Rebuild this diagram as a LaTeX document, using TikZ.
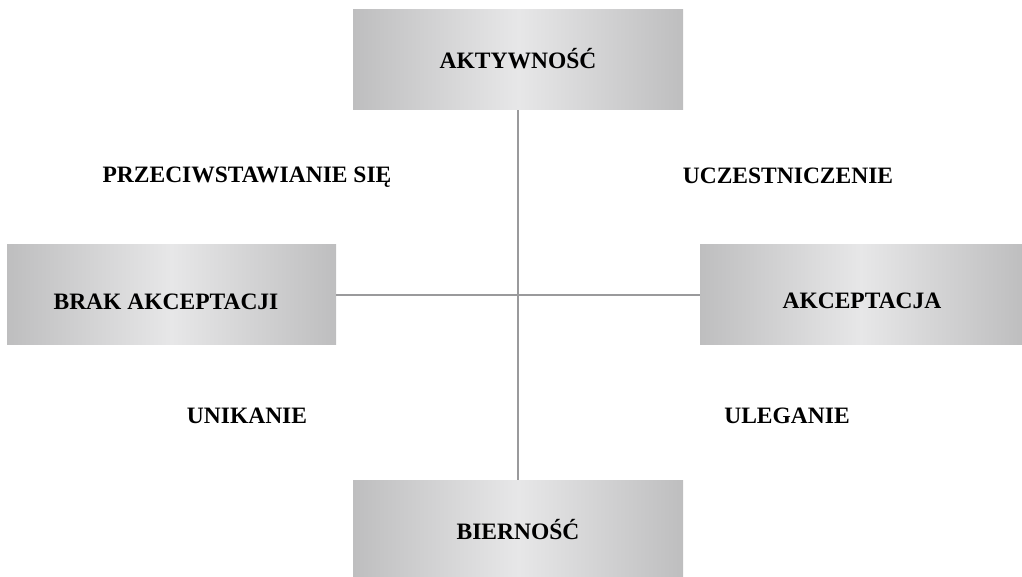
\documentclass[tikz,border=0pt]{standalone}
\usepackage{fontspec}
\setmainfont{Liberation Serif}[BoldFont={Liberation Serif Bold}]
\newfontfamily\capfont{Liberation Serif Bold}
\begin{document}
\begin{tikzpicture}[x=1pt,y=1pt,
  panel/.style={draw=none,left color=boxedge,right color=boxedge,middle color=boxmid,
    minimum height=100pt,inner sep=0pt},
  axis/.style={draw=axisgray,line width=2pt},
  word/.style={font=\capfont\fontsize{23.5}{26}\selectfont,text=black,inner sep=0pt,anchor=base}]
\definecolor{boxedge}{HTML}{BEBEBF}
\definecolor{boxmid}{HTML}{E7E7E8}
\definecolor{axisgray}{HTML}{9A9A9C}
\useasboundingbox (0,0) rectangle (1022,576);

% four gradient panels
\node[panel,minimum width=330pt] (top) at (518,516) {};
\node[panel,minimum width=330pt,minimum height=96pt] (bot) at (518,48) {};
\node[panel,minimum width=329pt] (left) at (171.5,281) {};
\node[panel,minimum width=322pt] (right) at (861,281) {};

% axes between the panels
\draw[axis] (top.south) -- (bot.north);
\draw[axis] (left.east) -- (right.west);

% panel captions
\node[word] (tA) at (518,507.5) {AKTYWNOŚĆ};
\node[word] (tB) at (518,37) {BIERNOŚĆ};
\node[word] (tL) at (166,266) {BRAK AKCEPTACJI};
\node[word] (tR) at (862,267) {AKCEPTACJA};

% quadrant labels
\node[word] (q1) at (247,393) {PRZECIWSTAWIANIE SIĘ};
\node[word] (q2) at (788,392) {UCZESTNICZENIE};
\node[word] (q3) at (247,153) {UNIKANIE};
\node[word] (q4) at (787,153) {ULEGANIE};
\end{tikzpicture}
\end{document}
